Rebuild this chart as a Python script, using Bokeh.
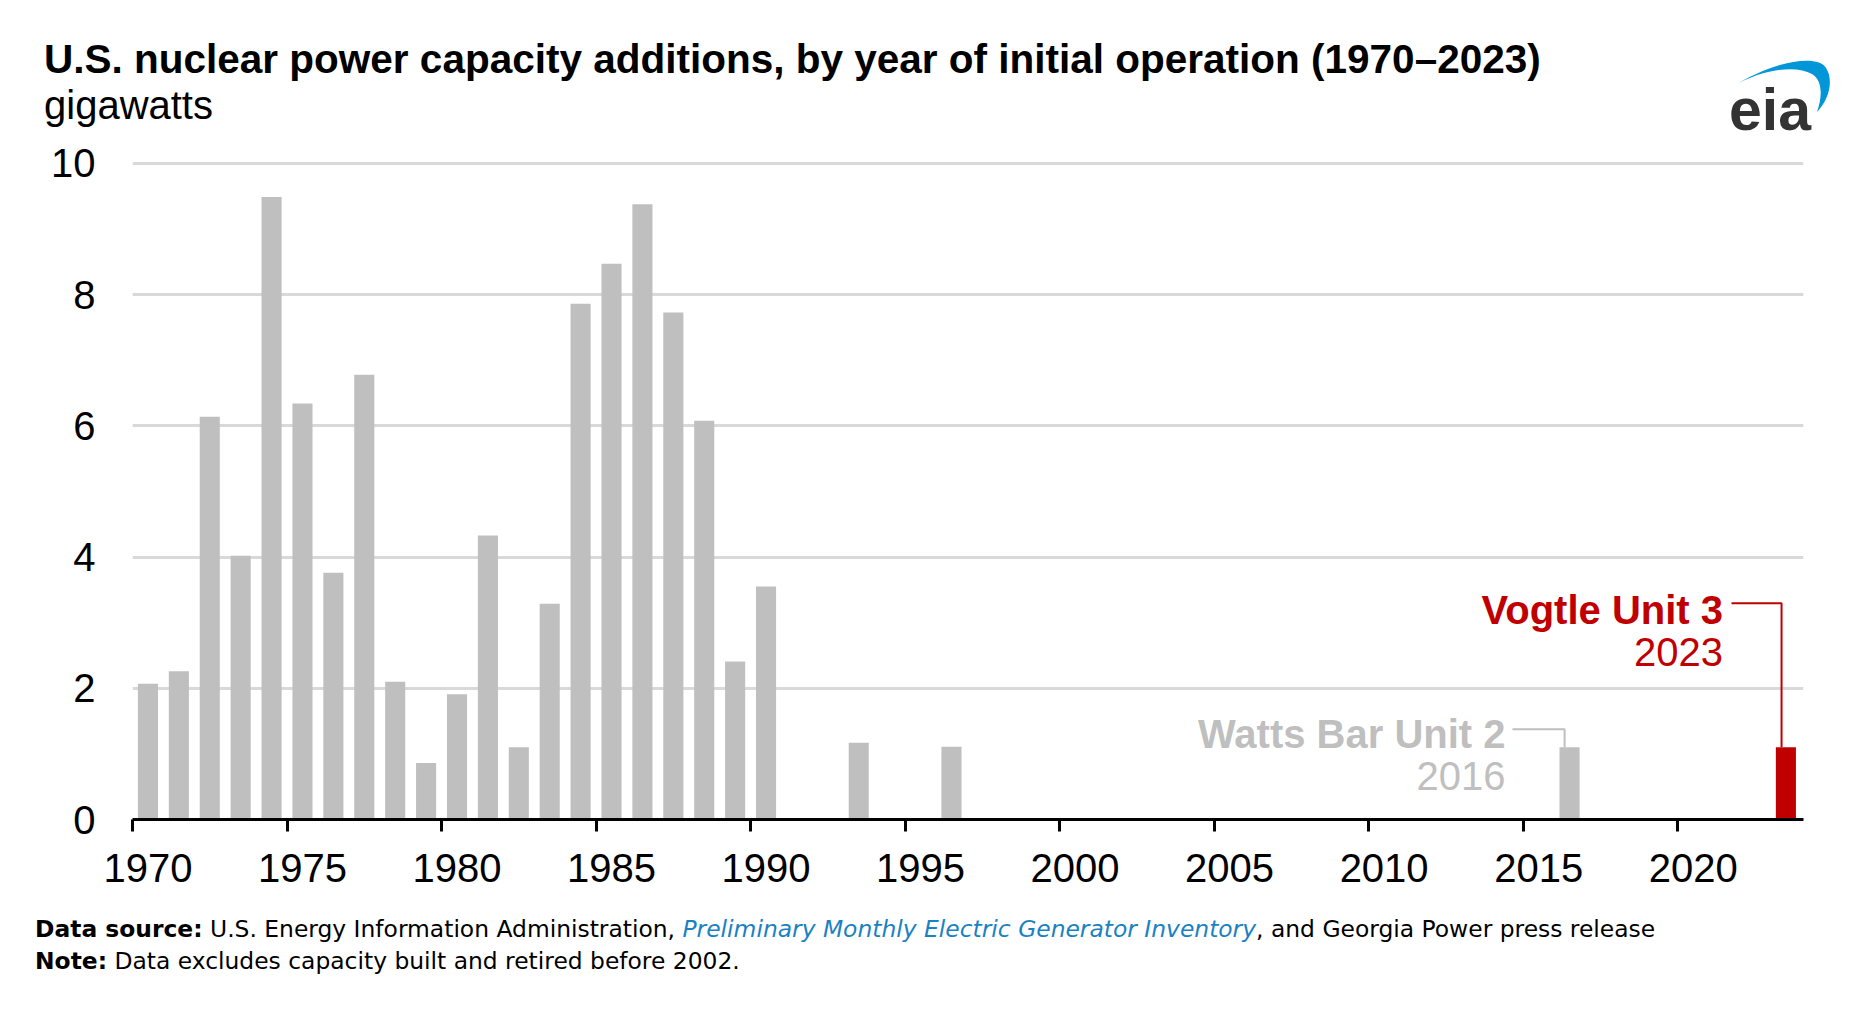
from bokeh.plotting import figure
from bokeh.models import (Range1d, FixedTicker, Label, Div, ColumnDataSource,
                          LinearAxis, CustomJSTickFormatter)
from bokeh.layouts import column
from bokeh.embed import file_html
from bokeh.resources import INLINE

# ---------------- data ----------------
years = [1970, 1971, 1972, 1973, 1974, 1975, 1976, 1977, 1978, 1979,
         1980, 1981, 1982, 1983, 1984, 1985, 1986, 1987, 1988, 1989,
         1990, 1993, 1996, 2016, 2023]
capacity_gw = [2.07, 2.26, 6.14, 4.02, 9.49, 6.34, 3.76, 6.78, 2.10, 0.86,
               1.91, 4.33, 1.10, 3.29, 7.86, 8.47, 9.38, 7.73, 6.08, 2.41,
               3.55, 1.17, 1.11, 1.10, 1.10]
highlight_year = 2023
x_ticks = [1970, 1975, 1980, 1985, 1990, 1995, 2000, 2005, 2010, 2015, 2020]
y_ticks = [0, 2, 4, 6, 8, 10]

title_text = "U.S. nuclear power capacity additions, by year of initial operation (1970\u20132023)"
unit_text = "gigawatts"
watts_label = ["Watts Bar Unit 2", "2016"]
vogtle_label = ["Vogtle Unit 3", "2023"]
source_bold = "Data source:"
source_text = "U.S. Energy Information Administration,"
source_link = "Preliminary Monthly Electric Generator Inventory"
source_tail = ", and Georgia Power press release"
note_bold = "Note:"
note_text = "Data excludes capacity built and retired before 2002."

# ---------------- layout constants (page px) ----------------
W = 1854
HEADER_H = 130
FRAME_LEFT = 132          # page x of 1970
FRAME_BOTTOM = 819        # page y of 0 GW
X0, X1 = 1970, 2024.07
Y0, Y1 = 0, 10.03
FRAME_W = 1671
FRAME_H = 658
FL = FRAME_LEFT
FR = W - FL - FRAME_W
FB_FIG = FRAME_BOTTOM - HEADER_H
FT = FB_FIG - FRAME_H
H = 913 - HEADER_H
FB = H - FB_FIG
PXY = FRAME_W / (X1 - X0)
PGW = FRAME_H / (Y1 - Y0)
LABEL_SHIFT = 14          # px, baseline correction for Label text

GRAY = "#bfbfbf"
RED = "#c00000"
FONT = "Liberation Sans"


def dx(page_x):
    return X0 + (page_x - FRAME_LEFT) / PXY


def dy(page_y):
    return Y0 + (FRAME_BOTTOM - page_y) / PGW


p = figure(width=W, height=H, output_backend="svg", toolbar_location=None,
           x_range=Range1d(X0, X1), y_range=Range1d(Y0, Y1),
           min_border_left=FL, min_border_right=FR,
           min_border_top=FT, min_border_bottom=FB)
p.outline_line_color = None
p.background_fill_color = "white"
p.border_fill_color = "white"

colors = [RED if y == highlight_year else GRAY for y in years]
src = ColumnDataSource(dict(x=[y + 0.5 for y in years], top=capacity_gw, color=colors))
p.vbar(x="x", top="top", bottom=0, width=0.65, fill_color="color",
       line_color=None, source=src)

# x axis: line + tick marks at year boundaries (labels hidden)
p.xaxis.ticker = FixedTicker(ticks=x_ticks)
p.xaxis.axis_line_color = "black"
p.xaxis.axis_line_width = 3
p.xaxis.major_tick_line_color = "black"
p.xaxis.major_tick_line_width = 3
p.xaxis.major_tick_in = 0
p.xaxis.major_tick_out = 12
p.xaxis.minor_tick_line_color = None
p.xaxis.major_label_standoff = 0
p.xaxis.major_label_text_font_size = "0px"
p.xaxis.major_label_text_alpha = 0

# second x axis: year labels centred on the year's bar
label_axis = LinearAxis(ticker=FixedTicker(ticks=[t + 0.5 for t in x_ticks]),
                        formatter=CustomJSTickFormatter(code="return String(Math.round(tick - 0.5));"))
label_axis.axis_line_color = None
label_axis.major_tick_line_color = None
label_axis.minor_tick_line_color = None
label_axis.major_tick_in = 0
label_axis.major_tick_out = 0
label_axis.major_label_standoff = 22
label_axis.major_label_text_font = FONT
label_axis.major_label_text_font_size = "40px"
label_axis.major_label_text_color = "black"
p.add_layout(label_axis, "below")

p.yaxis.ticker = FixedTicker(ticks=y_ticks)
p.yaxis.axis_line_color = None
p.yaxis.major_tick_line_color = None
p.yaxis.minor_tick_line_color = None
p.yaxis.major_tick_in = 0
p.yaxis.major_tick_out = 0
p.yaxis.major_label_standoff = 37
p.yaxis.major_label_text_font = FONT
p.yaxis.major_label_text_font_size = "40px"
p.yaxis.major_label_text_color = "black"

p.xgrid.grid_line_color = None
p.ygrid.grid_line_color = "#d9d9d9"
p.ygrid.grid_line_width = 3

# annotations: Watts Bar Unit 2
wb_val = capacity_gw[years.index(2016)]
p.add_layout(Label(x=dx(1505), y=dy(747 - LABEL_SHIFT), text=watts_label[0], text_font=FONT,
                   text_font_size="40px", text_font_style="bold", text_color=GRAY,
                   text_baseline="alphabetic", text_align="right"))
p.add_layout(Label(x=dx(1505), y=dy(789 - LABEL_SHIFT), text=watts_label[1], text_font=FONT,
                   text_font_size="40px", text_color=GRAY,
                   text_baseline="alphabetic", text_align="right"))
p.line(x=[dx(1512), 2016.34, 2016.34], y=[dy(728.7), dy(728.7), wb_val],
       line_color=GRAY, line_width=2)

# annotations: Vogtle Unit 3
vg_val = capacity_gw[years.index(2023)]
p.add_layout(Label(x=dx(1722.5), y=dy(623 - LABEL_SHIFT), text=vogtle_label[0], text_font=FONT,
                   text_font_size="40px", text_font_style="bold", text_color=RED,
                   text_baseline="alphabetic", text_align="right"))
p.add_layout(Label(x=dx(1722.5), y=dy(665 - LABEL_SHIFT), text=vogtle_label[1], text_font=FONT,
                   text_font_size="40px", text_color=RED,
                   text_baseline="alphabetic", text_align="right"))
p.line(x=[dx(1731), 2023.36, 2023.36], y=[dy(602.7), dy(602.7), vg_val],
       line_color=RED, line_width=2)

# ---------------- header (title, unit, eia logo) ----------------
logo_svg = (
    '<svg style="position:absolute; left:1715px; top:40px;" width="130" height="125" '
    'viewBox="1715 40 130 125" xmlns="http://www.w3.org/2000/svg">'
    '<path d="M1732,87 C1775,60 1818,54 1826,68 C1834,80 1829,100 1817,112 '
    'C1823,95 1822,80 1812,74 C1795,64 1760,70 1732,87 Z" fill="#0096d7"/>'
    '<text x="1729" y="130" font-family="Open Sans" font-weight="bold" '
    'font-size="59" fill="#333333">eia</text></svg>'
)
header_html = (
    f'<div style="position:relative; width:{W}px; height:{HEADER_H}px;">'
    f'<div style="position:absolute; left:44px; top:39px; font-family:\'{FONT}\'; '
    f'font-weight:bold; font-size:40.5px; line-height:40px; white-space:nowrap; color:#000;">'
    f'{title_text}</div>'
    f'<div style="position:absolute; left:44px; top:85px; font-family:\'{FONT}\'; '
    f'font-size:40px; line-height:40px; white-space:nowrap; color:#000;">{unit_text}</div>'
    f'{logo_svg}</div>'
)
header = Div(text=header_html, width=W, height=HEADER_H, margin=(0, 0, 0, 0))

# ---------------- footer ----------------
footer_html = (
    '<div style="font-family: \'DejaVu Sans\', sans-serif; font-size: 23.4px; line-height: 32px; '
    'color: #000; padding-left: 35px; white-space: nowrap;">'
    f'<b>{source_bold}</b> {source_text} '
    f'<i style="color:#1a82c2;">{source_link}</i>{source_tail}<br>'
    f'<b>{note_bold}</b> {note_text}</div>'
)
footer = Div(text=footer_html, width=W, height=80, margin=(0, 0, 0, 0))

layout = column(header, p, footer, spacing=0)
open("out.html", "w").write(file_html(layout, INLINE))
